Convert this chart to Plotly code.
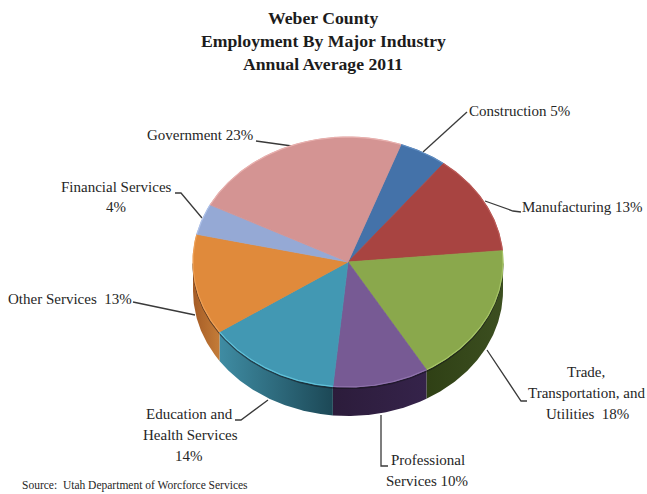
import numpy as np
import plotly.graph_objects as go

# Employment shares in clockwise order, beginning with Construction
industries = ["Construction", "Manufacturing", "Trade, Transportation, and Utilities",
              "Professional Services", "Education and Health Services",
              "Other Services", "Financial Services", "Government"]
shares = [5, 13, 18, 10, 14, 13, 4, 23]
top_colors = ["#4472a9", "#a84441", "#8aa84c", "#775a94", "#4298b3", "#e08a3b", "#95a9d5", "#d49493"]
rim_colors = ["#5f8cc0", "#bb5a57", "#a5c465", "#8f72ac", "#5fc0d8", "#ee9f55", "#adc0e8", "#e8b0ae"]
side_colors = {
    2: ("#2f4015", "#3c4f20"),
    3: ("#2c1c3b", "#35234a"),
    4: ("#3f8ca3", "#1c4856"),
    5: ("#a55c26", "#c47c38"),
}

# Tilted pie geometry on a pixel-sized axis
START_DEG = 20.0
CX, CY, RX, RY, DEPTH = 348.0, 262.0, 155.0, 125.0, 29.0


def rim(a_from, a_to, drop=0.0):
    t = np.radians(np.linspace(a_from, a_to, max(int(abs(a_to - a_from)) * 2, 2)))
    return CX + RX * np.sin(t), CY - RY * np.cos(t) + drop


fig = go.Figure()
edges = START_DEG + 3.6 * np.concatenate(([0], np.cumsum(shares)))

# Side walls sit beneath the top face, only along the front half
for i, (c_left, c_right) in side_colors.items():
    a0, a1 = max(edges[i], 90), min(edges[i + 1], 270)
    xt, yt = rim(a0, a1)
    xb, yb = rim(a1, a0, DEPTH)
    # Arcs run clockwise, so the wall's colour stops are listed left to right
    fig.add_trace(go.Scatter(
        x=np.concatenate((xt, xb)), y=np.concatenate((yt, yb)),
        mode="lines", line=dict(width=0), fill="toself",
        fillgradient=dict(type="horizontal", colorscale=[[0, c_left], [1, c_right]]),
        hoverinfo="skip", showlegend=False))
    fig.add_trace(go.Scatter(x=xt, y=yt + 1.5, mode="lines", line=dict(color="#15151c", width=1.5),
                             opacity=0.55, hoverinfo="skip", showlegend=False))

# Top face wedges
for i, name in enumerate(industries):
    xa, ya = rim(edges[i], edges[i + 1])
    fig.add_trace(go.Scatter(
        x=np.concatenate(([CX], xa, [CX])), y=np.concatenate(([CY], ya, [CY])),
        mode="lines", line=dict(color=top_colors[i], width=0.8), fill="toself",
        fillcolor=top_colors[i], name=name, text=f"{name} {shares[i]}%", hoverinfo="text",
        showlegend=False))
    fig.add_trace(go.Scatter(x=xa, y=ya, mode="lines", line=dict(color=rim_colors[i], width=1.2),
                             hoverinfo="skip", showlegend=False))

# Leader lines from the labels to the pie edge
leaders = [
    [(467, 112), (423, 152)],
    [(521, 212), (513, 211), (485, 201)],
    [(527, 401), (521, 401), (487, 350)],
    [(388, 466), (381, 466), (381, 415)],
    [(235, 420), (241, 420), (268, 400)],
    [(133, 302), (195, 315)],
    [(175, 193), (181, 193), (202, 218)],
    [(256, 141), (292, 146)],
]
shapes = [
    dict(type="path", xref="x", yref="y", layer="below",
         path="M " + " L ".join(f"{x},{y}" for x, y in pts),
         line=dict(color="#3a3a3a", width=1.3))
    for pts in leaders
]

# (text, x, y, anchor)
label_lines = [
    ("Construction 5%", 519, 111, "center"),
    ("Manufacturing 13%", 582, 207, "center"),
    ("Trade,", 586, 372, "center"),
    ("Transportation, and", 586, 393, "center"),
    ("Utilities  18%", 587, 414, "center"),
    ("Professional", 428, 460, "center"),
    ("Services 10%", 427, 481, "center"),
    ("Education and", 189, 414, "center"),
    ("Health Services", 190, 435, "center"),
    ("14%", 189, 456, "center"),
    ("Other Services  13%", 70, 299, "center"),
    ("Financial Services", 116, 187, "center"),
    ("4%", 116, 207, "center"),
    ("Government 23%", 200, 135, "center"),
]
title_lines = [("Weber County", 323, 18), ("Employment By Major Industry", 323, 41),
               ("Annual Average 2011", 323, 64)]

annotations = [
    dict(text=t, x=x, y=y, xref="x", yref="y", xanchor=a, yanchor="middle", showarrow=False,
         font=dict(family="Liberation Serif", size=15, color="#262626"))
    for t, x, y, a in label_lines
]
annotations += [
    dict(text=f"<b>{t}</b>", x=x, y=y, xref="x", yref="y", xanchor="center", yanchor="middle",
         showarrow=False, font=dict(family="Liberation Serif", size=17.7, color="#1c1c1c"))
    for t, x, y in title_lines
]
annotations.append(dict(text="Source:  Utah Department of Worcforce Services", x=20, y=485, xref="x", yref="y",
                        xanchor="left", yanchor="middle", showarrow=False,
                        font=dict(family="Liberation Serif", size=11.5, color="#262626")))

fig.update_layout(
    width=647, height=494, margin=dict(l=0, r=0, t=0, b=0),
    paper_bgcolor="white", plot_bgcolor="white", showlegend=False,
    xaxis=dict(range=[0, 647], visible=False, fixedrange=True),
    yaxis=dict(range=[494, 0], visible=False, fixedrange=True),
    shapes=shapes, annotations=annotations,
)
fig.write_html("out.html", config={"displayModeBar": False})
